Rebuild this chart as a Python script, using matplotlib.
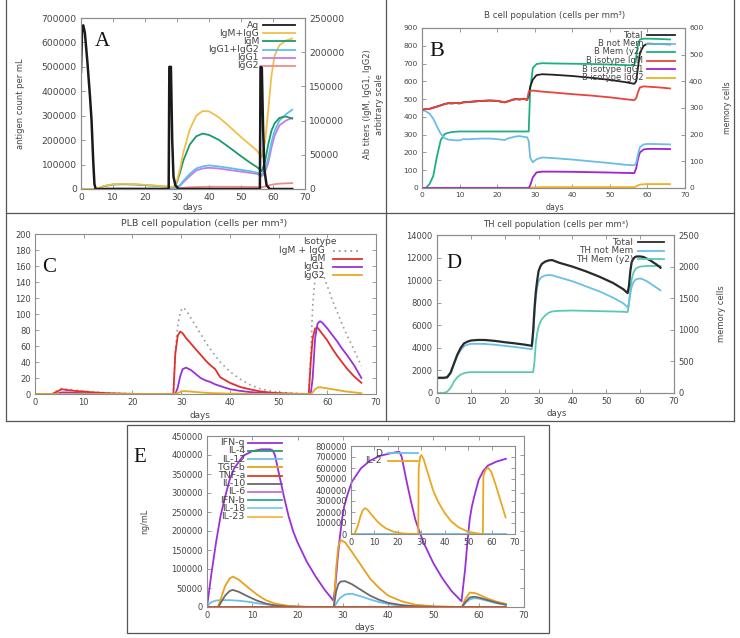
import matplotlib
matplotlib.use('Agg')
import matplotlib.pyplot as plt
from matplotlib.lines import Line2D
from matplotlib.patches import Rectangle

# ---------------- Panel A data ----------------
a_ag_days = [0, 0.3, 0.7, 1.2, 2.0, 2.8, 3.3, 3.8, 4.2, 4.6, 27.4, 27.6, 28.1, 28.5, 28.9, 29.5, 30.5,
             55.9, 56.1, 56.5, 56.9, 57.3, 58.0, 59.0, 66]
a_ag = [480000, 640000, 670000, 640000, 520000, 380000, 280000, 120000, 20000, 0, 0, 500000, 500000, 200000,
        50000, 15000, 0, 0, 500000, 500000, 250000, 80000, 15000, 0, 0]
a_ab_days = [0, 5, 7, 10, 13, 17, 22, 28, 29, 30, 31, 32, 34, 36, 38, 40, 43, 46, 50, 53, 55, 56.5, 57.5,
             58.5, 59.5, 60.5, 62, 64, 66]
a_igm_igg = [0, 0, 4300, 7000, 7500, 7000, 5400, 3300, 3300, 12000, 31000, 54000, 87000, 107000, 114000,
             113500, 105000, 93000, 76000, 64000, 56000, 47000, 68000, 115000, 165000, 195000, 210000, 217000, 220000]
a_igm = [0, 0, 4000, 6500, 7000, 6500, 5000, 3000, 3000, 10000, 25000, 42000, 65000, 77000, 81000, 79000,
         72000, 62000, 48000, 38000, 32000, 26000, 40000, 65000, 85000, 96000, 104000, 106000, 103000]
a_igg12 = [0, 0, 300, 500, 500, 500, 400, 300, 300, 2000, 6000, 12000, 22000, 30000, 33000, 34500, 33000,
           31000, 28000, 26000, 24000, 21000, 28000, 45000, 68000, 85000, 100000, 109000, 116000]
a_igg1 = [0, 0, 200, 300, 300, 300, 250, 200, 200, 1500, 5000, 10000, 19000, 27000, 30000, 31000, 30000,
          28000, 25500, 23500, 22000, 19000, 24000, 38000, 60000, 78000, 93000, 100000, 104000]
a_igg2 = [0, 0, 100, 200, 200, 200, 150, 100, 100, 500, 1200, 1800, 2500, 2800, 3000, 3300, 3300, 3300,
          3200, 3000, 2900, 2700, 3500, 5000, 6200, 7000, 7800, 8300, 8700]

# ---------------- Panel B data ----------------
b_days = [0, 1, 2, 3, 4, 5, 6, 7, 8, 9, 10, 11, 12, 14, 16, 18, 20, 21, 22, 23, 24, 25, 26, 27, 28,
          28.4, 28.8, 29.5, 30.5, 32, 35, 40, 45, 50, 54, 56, 56.5, 57, 57.5, 58, 59, 60, 63, 66]
b_total = [440, 445, 445, 452, 458, 465, 472, 477, 476, 478, 476, 482, 483, 487, 490, 492, 490, 486, 482,
           488, 496, 500, 498, 502, 496,
           520, 570, 610, 635, 640, 637, 630, 620, 608, 596, 588, 586, 600, 680, 760, 800, 812, 810, 808]
b_not_mem = [440, 432, 418, 390, 345, 305, 280, 272, 270, 268, 268, 275, 274, 276, 278, 278, 275, 272, 270,
             280, 285, 290, 292, 288, 285,
             265, 170, 145, 162, 172, 168, 160, 150, 140, 131, 128, 128, 140, 190, 230, 245, 248, 247, 245]
b_mem = [0, 0, 15, 45, 120, 180, 202, 207, 210, 211, 212, 212, 212, 212, 212, 212, 212, 212, 212, 212, 212,
         212, 212, 212, 212,
         212, 370, 450, 465, 468, 467, 466, 465, 463, 461, 460, 460, 490, 540, 557, 560, 560, 559, 557]
b_igm = [440, 445, 445, 452, 458, 465, 472, 477, 476, 478, 476, 482, 483, 487, 490, 492, 490, 486, 482,
         488, 496, 500, 498, 502, 496,
         540, 546, 548, 546, 542, 537, 528, 520, 510, 500, 495, 494, 505, 540, 565, 572, 570, 566, 560]
b_igg1 = [0] * 25 + [0, 15, 60, 88, 92, 92, 91, 89, 87, 85, 84, 84, 110, 165, 200, 217, 220, 220, 219]
b_igg2 = [0] * 25 + [0, 1, 3, 4, 5, 5, 5, 5, 5, 5, 5, 5, 9, 15, 19, 21, 22, 22, 22]

# ---------------- Panel C data ----------------
c_days = [0, 3.5, 4.5, 5.5, 6.5, 8, 10, 12, 15, 18, 21, 28,
          28.4, 28.8, 29.3, 29.8, 30.3, 31, 32, 33, 34, 35, 36, 37, 38, 40, 42, 44, 46, 48, 50, 53,
          56.2, 56.6, 57, 57.5, 58, 58.5, 59, 60, 61, 62, 63, 64, 65.5, 67]
c_igm_igg = [0, 0, 4, 7, 6, 5, 3.5, 2.5, 1.5, 0.7, 0.2, 0,
             0, 55, 85, 102, 108, 105, 95, 85, 75, 65, 56, 48, 40, 28, 19, 12, 7, 4, 2, 1,
             0, 50, 110, 145, 158, 160, 152, 135, 118, 103, 88, 74, 55, 35]
c_igm = [0, 0, 3, 6, 5, 4, 3, 2, 1, 0.5, 0, 0,
         0, 50, 73, 78, 76, 70, 63, 56, 49, 42, 36, 31, 21, 14, 9, 6, 3.5, 2, 1, 0.3,
         0, 40, 70, 82, 83, 79, 75, 67, 57, 48, 40, 32, 22, 14]
c_igg1 = [0, 0, 0.5, 2, 2, 1.5, 1, 0.5, 0.2, 0, 0, 0,
          0, 0, 8, 22, 31, 33, 30, 25, 20, 17, 15, 12, 10, 6, 4, 2.5, 1.5, 1, 0.5, 0.2,
          0, 0, 20, 70, 88, 91, 89, 82, 74, 66, 57, 49, 36, 20]
c_igg2 = [0] * 12 + [0, 0, 1, 2.5, 3.5, 3.5, 3, 2.5, 2, 1.5, 1.2, 1, 0.8, 0.5, 0.3, 0.2, 0.1, 0, 0, 0] + \
         [0, 0, 2, 6, 8, 8.5, 8, 7, 6, 5, 4, 3, 2, 1]

# ---------------- Panel D data ----------------
d_days = [0, 2, 3, 4, 5, 6, 7, 8, 9, 10, 12, 14, 17, 20, 23, 26, 28,
          28.4, 28.8, 29.2, 29.6, 30, 30.5, 31, 32, 33, 34, 36, 40, 44, 48, 52, 55,
          56.3, 56.7, 57.1, 57.5, 58, 58.5, 59, 60, 61, 62, 63, 64, 65, 66]
d_total = [1350, 1350, 1400, 1800, 2600, 3400, 4000, 4400, 4550, 4650, 4700, 4700, 4620, 4500, 4400, 4280, 4180,
           5500, 7500, 9000, 10000, 10800, 11200, 11450, 11650, 11750, 11780, 11550, 11200, 10780, 10300, 9750, 9200,
           8850, 9500, 10800, 11600, 11900, 12050, 12100, 12100, 12050, 11900, 11750, 11550, 11350, 11100]
d_not_mem = [1300, 1300, 1350, 1700, 2500, 3300, 3800, 4150, 4280, 4350, 4360, 4350, 4280, 4180, 4080, 3960, 3880,
             5000, 7000, 8500, 9400, 9900, 10150, 10300, 10420, 10450, 10430, 10250, 9900, 9450, 9000, 8450, 7950,
             7600, 8000, 8800, 9400, 9800, 10000, 10100, 10150, 10050, 9900, 9700, 9500, 9300, 9100]
d_mem = [0, 0, 20, 80, 180, 250, 290, 315, 325, 330, 330, 330, 330, 330, 330, 330, 330,
         330, 500, 800, 950, 1050, 1120, 1170, 1230, 1270, 1290, 1300, 1305, 1300, 1295, 1290, 1285,
         1280, 1400, 1650, 1800, 1900, 1950, 1980, 2000, 2005, 2010, 2010, 2010, 2010, 2010]

# ---------------- Panel E data ----------------
e_ifng_days = [0, 0.5, 1, 2, 3, 4, 5, 6, 8, 10, 12, 14, 14.5, 15, 16, 17, 18, 19, 20, 22, 24, 26, 27.9,
               28.3, 28.8, 29.3, 29.8, 30.3, 31, 32, 34, 36, 38, 40, 42, 42.5, 43, 44, 45, 46, 47, 48, 50,
               52, 54, 56.2, 57, 57.5, 58, 58.5, 59, 60, 61, 62, 64, 66]
e_ifng = [0, 45000, 90000, 170000, 240000, 290000, 335000, 365000, 398000, 410000, 415000, 415000, 412000,
          400000, 345000, 290000, 240000, 200000, 170000, 120000, 80000, 45000, 17000,
          50000, 120000, 180000, 230000, 265000, 295000, 330000, 365000, 385000, 397000, 403000, 408000,
          408000, 395000, 335000, 280000, 230000, 195000, 165000, 115000, 75000, 42000, 15000,
          100000, 170000, 230000, 265000, 290000, 335000, 358000, 372000, 383000, 390000]
e_days = [0, 0.5, 1, 2, 2.5, 3, 4, 5, 5.7, 7, 9, 11, 13, 15, 18, 22, 28,
          28.5, 29, 29.5, 30.5, 32, 34, 36, 38, 40, 43, 46, 50,
          56.3, 57, 58, 59, 60, 62, 64, 66]
e_tgfb = [0, 0, 0, 0, 2000, 20000, 55000, 75000, 80000, 72000, 52000, 33000, 18000, 9000, 3000, 500, 0,
          100000, 160000, 176000, 170000, 145000, 110000, 75000, 50000, 30000, 15000, 6000, 2000,
          0, 20000, 38000, 37000, 33000, 22000, 14000, 8000]
e_il10 = [0, 0, 0, 0, 0, 10000, 30000, 42000, 45000, 40000, 28000, 17000, 9000, 4000, 1000, 0, 0,
          40000, 60000, 67000, 68000, 60000, 45000, 30000, 19000, 11000, 5000, 2000, 500,
          0, 12000, 25000, 27000, 25000, 18000, 11000, 6000]
e_il12 = [0, 8000, 13000, 17000, 17500, 18000, 18000, 18000, 17500, 16500, 14000, 10000, 7000, 4500, 1500, 300, 0,
          8000, 18000, 25000, 33000, 35000, 28000, 20000, 13000, 8000, 3000, 1000, 200,
          0, 10000, 20000, 23000, 22000, 16000, 10000, 6000]
e_zero = [0] * 37
e_il2_days = [0, 1.5, 3, 4, 5, 6, 7, 9, 11, 13, 15, 18, 22, 27,
              28.7, 28.9, 29.5, 30, 31, 33, 35, 37, 40, 43, 46, 50, 54,
              56.3, 56.5, 57.5, 58.5, 60, 62, 64, 66]
e_il2 = [0, 0, 80000, 160000, 215000, 235000, 222000, 170000, 120000, 80000, 50000, 22000, 5000, 0,
         0, 600000, 700000, 718000, 680000, 540000, 400000, 300000, 190000, 110000, 60000, 20000, 5000,
         0, 530000, 585000, 603000, 560000, 430000, 290000, 150000]
e_d = [0] * 35

# ---------------- figure helpers ----------------
W, H = 740, 638
fig = plt.figure(figsize=(7.4, 6.38), dpi=100)
plt.rcParams['font.family'] = ['DejaVu Sans']

TICK = '#454545'
SPINE = '#8c8c8c'
LW = 1.3


def rect(l, t, r, b):
    return [l / W, 1 - b / H, (r - l) / W, (b - t) / H]


def fx(x):
    return x / W


def fy(y):
    return 1 - y / H


def style(ax, fs, twin=None):
    for s in ax.spines.values():
        s.set_color(SPINE)
        s.set_linewidth(0.8)
    ax.tick_params(axis='both', direction='in', length=3, width=0.6, color=SPINE,
                   labelcolor=TICK, labelsize=fs, pad=3, top=True, right=(twin is None))
    if twin is not None:
        for s in twin.spines.values():
            s.set_color(SPINE)
            s.set_linewidth(0.8)
        twin.tick_params(axis='y', direction='in', length=3, width=0.6, color=SPINE,
                         labelcolor=TICK, labelsize=fs, pad=3, right=True, left=False)


def flegend(entries, xt, x1, x2, ys, fs):
    for (label, color, ls), y in zip(entries, ys):
        fig.text(fx(xt), fy(y), label, ha='right', va='center', fontsize=fs, color=TICK)
        fig.add_artist(Line2D([fx(x1), fx(x2)], [fy(y), fy(y)], color=color, lw=LW, ls=ls,
                              transform=fig.transFigure))


def ftext(x, y, s, fs, **kw):
    fig.text(fx(x), fy(y), s, fontsize=fs, color=TICK, ha='center', va='center', **kw)


def letter(x, y, s, fs):
    fig.text(fx(x), fy(y), s, fontsize=fs, family='Liberation Serif', color='#111111',
             ha='center', va='center')


# ---------------- Panel A ----------------
axA = fig.add_axes(rect(81, 18, 305, 189))
axA2 = axA.twinx()
cA = {'Ag': '#1a1a1a', 'IgM+IgG': '#f0c04a', 'IgM': '#1a9a6a', 'IgG1+IgG2': '#5cc0ea',
      'IgG1': '#c77ae8', 'IgG2': '#f08a8a'}
axA2.plot(a_ab_days, a_igg2, color=cA['IgG2'], lw=LW)
axA2.plot(a_ab_days, a_igg1, color=cA['IgG1'], lw=LW)
axA2.plot(a_ab_days, a_igg12, color=cA['IgG1+IgG2'], lw=LW)
axA2.plot(a_ab_days, a_igm, color=cA['IgM'], lw=LW)
axA2.plot(a_ab_days, a_igm_igg, color=cA['IgM+IgG'], lw=LW)
axA.plot(a_ag_days, a_ag, color=cA['Ag'], lw=1.8)
axA.set_zorder(axA2.get_zorder() + 1)
axA.patch.set_visible(False)
axA.set_xlim(0, 70)
axA.set_ylim(0, 700000)
axA2.set_ylim(0, 250000)
axA.set_xticks(range(0, 71, 10))
axA.set_yticks(range(0, 700001, 100000))
axA2.set_yticks(range(0, 250001, 50000))
style(axA, 6.6, axA2)
flegend([(k, cA[k], '-') for k in ['Ag', 'IgM+IgG', 'IgM', 'IgG1+IgG2', 'IgG1', 'IgG2']],
        259, 263, 295, [25, 33.2, 41.4, 49.6, 57.8, 66], 6.7)
ftext(21, 104, 'antigen count per mL', 6.0, rotation=90)
ftext(368, 104, 'Ab titers (IgM, IgG1, IgG2)', 6.0, rotation=90)
ftext(380, 104, 'arbitrary scale', 6.0, rotation=90)
ftext(193, 207, 'days', 6.2)
letter(102, 42, 'A', 15)

# ---------------- Panel B ----------------
axB = fig.add_axes(rect(422, 28, 685, 188))
axB2 = axB.twinx()
cB = {'Total': '#222222', 'B not Mem': '#6cbde6', 'B Mem (y2)': '#1fae80', 'B isotype IgM': '#e8443a',
      'B isotype IgG1': '#a020d8', 'B isotype IgG2': '#f0b020'}
axB2.plot(b_days, b_mem, color=cB['B Mem (y2)'], lw=LW)
axB.plot(b_days, b_igg2, color=cB['B isotype IgG2'], lw=LW)
axB.plot(b_days, b_igg1, color=cB['B isotype IgG1'], lw=LW)
axB.plot(b_days, b_not_mem, color=cB['B not Mem'], lw=LW)
axB.plot(b_days, b_total, color=cB['Total'], lw=LW)
axB.plot(b_days, b_igm, color=cB['B isotype IgM'], lw=LW)
axB.set_zorder(axB2.get_zorder() + 1)
axB.patch.set_visible(False)
axB.set_xlim(0, 70)
axB.set_ylim(0, 900)
axB2.set_ylim(0, 600)
axB.set_xticks(range(0, 71, 10))
axB.set_yticks(range(0, 901, 100))
axB2.set_yticks(range(0, 601, 100))
style(axB, 5.4, axB2)
flegend([(k, cB[k], '-') for k in ['Total', 'B not Mem', 'B Mem (y2)', 'B isotype IgM',
                                   'B isotype IgG1', 'B isotype IgG2']],
        643, 647, 675, [35, 43.5, 52, 60.5, 69, 77.5], 6.0)
ftext(555, 16, 'B cell population (cells per mm³)', 6.2)
ftext(728, 108, 'memory cells', 5.6, rotation=90)
ftext(555, 207, 'days', 5.6)
letter(437, 52, 'B', 16)

# ---------------- Panel C ----------------
axC = fig.add_axes(rect(35, 234, 376, 394))
cC = {'IgM + IgG': '#9a9a9a', 'IgM': '#e0302a', 'IgG1': '#9b30d8', 'IgG2': '#e8aa20'}
axC.plot(c_days, c_igm_igg, color=cC['IgM + IgG'], lw=1.2, ls=(0, (1, 2.2)))
axC.plot(c_days, c_igm, color=cC['IgM'], lw=LW)
axC.plot(c_days, c_igg1, color=cC['IgG1'], lw=LW)
axC.plot(c_days, c_igg2, color=cC['IgG2'], lw=LW)
axC.set_xlim(0, 70)
axC.set_ylim(0, 200)
axC.set_xticks(range(0, 71, 10))
axC.set_yticks(range(0, 201, 20))
style(axC, 6.0)
ftext(320, 242, 'Isotype', 6.6)
flegend([('IgM + IgG', cC['IgM + IgG'], (0, (1, 2.2))), ('IgM', cC['IgM'], '-'),
         ('IgG1', cC['IgG1'], '-'), ('IgG2', cC['IgG2'], '-')],
        325, 333, 362, [250.5, 258.7, 266.9, 275.1], 6.7)
ftext(204, 223, 'PLB cell population (cells per mm³)', 6.8)
ftext(200, 415, 'days', 6.4)
letter(49, 267, 'C', 15)

# ---------------- Panel D ----------------
axD = fig.add_axes(rect(437, 235, 674, 393))
axD2 = axD.twinx()
cD = {'Total': '#2a2a2a', 'TH not Mem': '#6abfe8', 'TH Mem (y2)': '#5cc8b4'}
axD2.plot(d_days, d_mem, color=cD['TH Mem (y2)'], lw=LW)
axD.plot(d_days, d_not_mem, color=cD['TH not Mem'], lw=LW)
axD.plot(d_days, d_total, color=cD['Total'], lw=1.6)
axD.set_zorder(axD2.get_zorder() + 1)
axD.patch.set_visible(False)
axD.set_xlim(0, 70)
axD.set_ylim(0, 14000)
axD2.set_ylim(0, 2500)
axD.set_xticks(range(0, 71, 10))
axD.set_yticks(range(0, 14001, 2000))
axD2.set_yticks(range(0, 2501, 500))
style(axD, 6.0, axD2)
flegend([(k, cD[k], '-') for k in ['Total', 'TH not Mem', 'TH Mem (y2)']],
        633, 638, 664, [242.3, 250.7, 259.1], 6.4)
ftext(556, 224, 'TH cell population (cells per mm³)', 6.1)
ftext(722, 314, 'memory cells', 6.0, rotation=90)
ftext(557, 414, 'days', 6.2)
letter(454, 264, 'D', 15)

# ---------------- Panel E ----------------
axE = fig.add_axes(rect(207, 436, 524, 607))
cE = {'IFN-g': '#9b30d8', 'IL-4': '#1fa070', 'IL-12': '#6cc0ea', 'TGF-b': '#e8a020', 'TNF-a': '#e0401a',
      'IL-10': '#6a6a6a', 'IL-6': '#c070e0', 'IFN-b': '#30a890', 'IL-18': '#80c8f0', 'IL-23': '#f0b848'}
axE.plot(e_ifng_days, e_ifng, color=cE['IFN-g'], lw=LW)
axE.plot(e_days, e_zero, color=cE['IL-4'], lw=LW)
axE.plot(e_days, e_il12, color=cE['IL-12'], lw=LW)
axE.plot(e_days, e_tgfb, color=cE['TGF-b'], lw=LW)
axE.plot(e_days, e_il10, color=cE['IL-10'], lw=LW)
axE.plot(e_days, e_zero, color=cE['IL-6'], lw=LW)
axE.plot(e_days, e_zero, color=cE['IFN-b'], lw=LW)
axE.plot(e_days, e_zero, color=cE['IL-18'], lw=LW)
axE.plot(e_days, e_zero, color=cE['IL-23'], lw=LW)
axE.plot(e_days, e_zero, color=cE['TNF-a'], lw=LW)
axE.set_xlim(0, 70)
axE.set_ylim(0, 450000)
axE.set_xticks(range(0, 71, 10))
axE.set_yticks(range(0, 450001, 50000))
style(axE, 6.0)
flegend([(k, cE[k], '-') for k in ['IFN-g', 'IL-4', 'IL-12', 'TGF-b', 'TNF-a', 'IL-10', 'IL-6',
                                   'IFN-b', 'IL-18', 'IL-23']],
        245, 248, 282, [442.7, 450.9, 459.1, 467.3, 475.5, 483.7, 491.9, 500.1, 508.3, 516.5], 6.8)
ftext(145, 521, 'ng/mL', 5.8, rotation=90)
ftext(365, 627, 'days', 6.2)
letter(140, 457, 'E', 15)

axI = fig.add_axes(rect(351, 446, 515, 534))
axI.patch.set_visible(False)
axI.plot(e_il2_days, e_d, color='#6cc0ea', lw=LW)
axI.plot(e_il2_days, e_il2, color='#e8a820', lw=LW)
axI.set_xlim(0, 70)
axI.set_ylim(0, 800000)
axI.set_xticks(range(0, 71, 10))
axI.set_yticks(range(0, 800001, 100000))
style(axI, 6.0)
flegend([('D', '#6cc0ea', '-'), ('IL-2', '#e8a820', '-')], 382, 388, 418, [453.3, 460.9], 6.6)

# ---------------- panel frames ----------------
FR = '#555555'
for (x1, y1, x2, y2) in [(6, 0, 6, 421), (386, 0, 386, 421), (734, 0, 734, 421),
                         (6, 213, 734, 213), (6, 421, 734, 421)]:
    fig.add_artist(Line2D([fx(x1), fx(x2)], [fy(y1), fy(y2)], color=FR, lw=0.9,
                          transform=fig.transFigure))
fig.add_artist(Rectangle((fx(127), fy(633)), (549 - 127) / W, (633 - 425) / H, fill=False,
                         edgecolor=FR, lw=0.9, transform=fig.transFigure))

fig.savefig('out.png', dpi=100)
